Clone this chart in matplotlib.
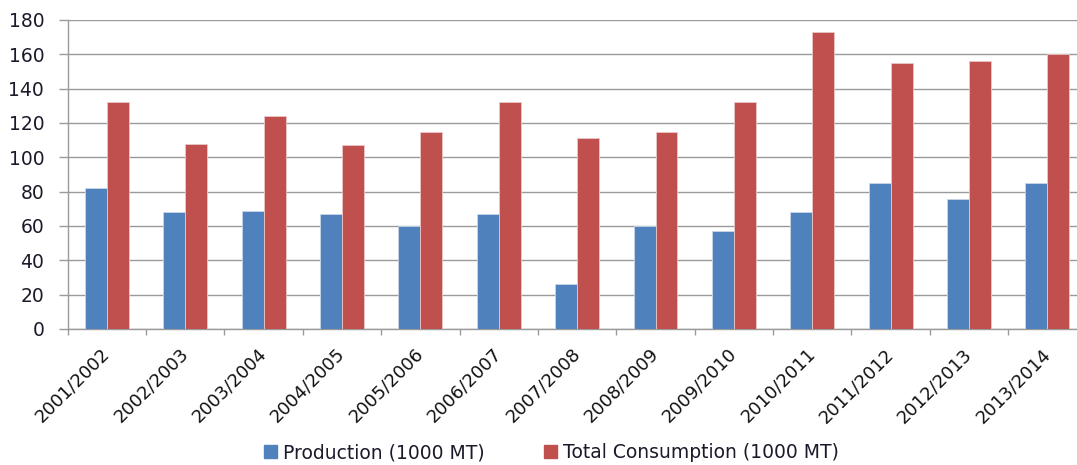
import numpy as np
import matplotlib.pyplot as plt
from matplotlib.patches import Patch

seasons = ['2001/2002', '2002/2003', '2003/2004', '2004/2005', '2005/2006',
           '2006/2007', '2007/2008', '2008/2009', '2009/2010', '2010/2011',
           '2011/2012', '2012/2013', '2013/2014']
production = [82, 68, 69, 67, 60, 67, 26, 60, 57, 68, 85, 76, 85]
consumption = [132, 108, 124, 107, 115, 132, 111, 115, 132, 173, 155, 156, 160]

blue = '#4F81BD'
red = '#C0504D'
grid_col = '#9a9a9a'

plt.rcParams['font.family'] = 'DejaVu Sans'

fig = plt.figure(figsize=(10.77, 4.65), dpi=100)
# axes runs a little past the right edge, the picture is cropped there
ax = fig.add_axes([0.0629, 0.2925, 0.946, 0.6645])

x = np.arange(len(seasons))
w = 0.28
ax.bar(x - w / 2, production, w, color=blue, edgecolor='#c9d6ea', linewidth=0.6, zorder=3)
ax.bar(x + w / 2, consumption, w, color=red, edgecolor='#ecc7c6', linewidth=0.6, zorder=3)

ax.set_xlim(-0.5, len(seasons) - 0.5)
ax.set_ylim(0, 180)
ax.set_yticks(np.arange(0, 181, 20))
ax.yaxis.grid(True, color=grid_col, linewidth=1.0, zorder=0)

# category labels at centres, tick marks at boundaries
ax.set_xticks(x)
ax.set_xticklabels(seasons, rotation=45, ha='right', va='center',
                   rotation_mode='anchor', fontsize=13, color='#111111')
ax.set_xticks(np.arange(-0.5, len(seasons)), minor=True)
ax.tick_params(axis='x', which='major', length=0, pad=16)
ax.tick_params(axis='x', which='minor', length=4.5, width=1.0, color=grid_col, direction='out')
ax.tick_params(axis='y', length=6.5, width=1.0, color=grid_col, pad=10.5,
               labelsize=13.5, labelcolor='#1a1a2a')

for s in ['top', 'right']:
    ax.spines[s].set_visible(False)
for s in ['left', 'bottom']:
    ax.spines[s].set_color(grid_col)
    ax.spines[s].set_linewidth(1.0)

handles = [Patch(color=blue, label='Production (1000 MT)'),
           Patch(color=red, label='Total Consumption (1000 MT)')]
fig.legend(handles=handles, loc='center', bbox_to_anchor=(0.512, 0.026), ncol=2,
           frameon=False, fontsize=13.5, handlelength=0.7, handleheight=0.7,
           handletextpad=0.3, columnspacing=3.2, labelcolor='#1a1a2a')

fig.savefig('out.png', dpi=100)
